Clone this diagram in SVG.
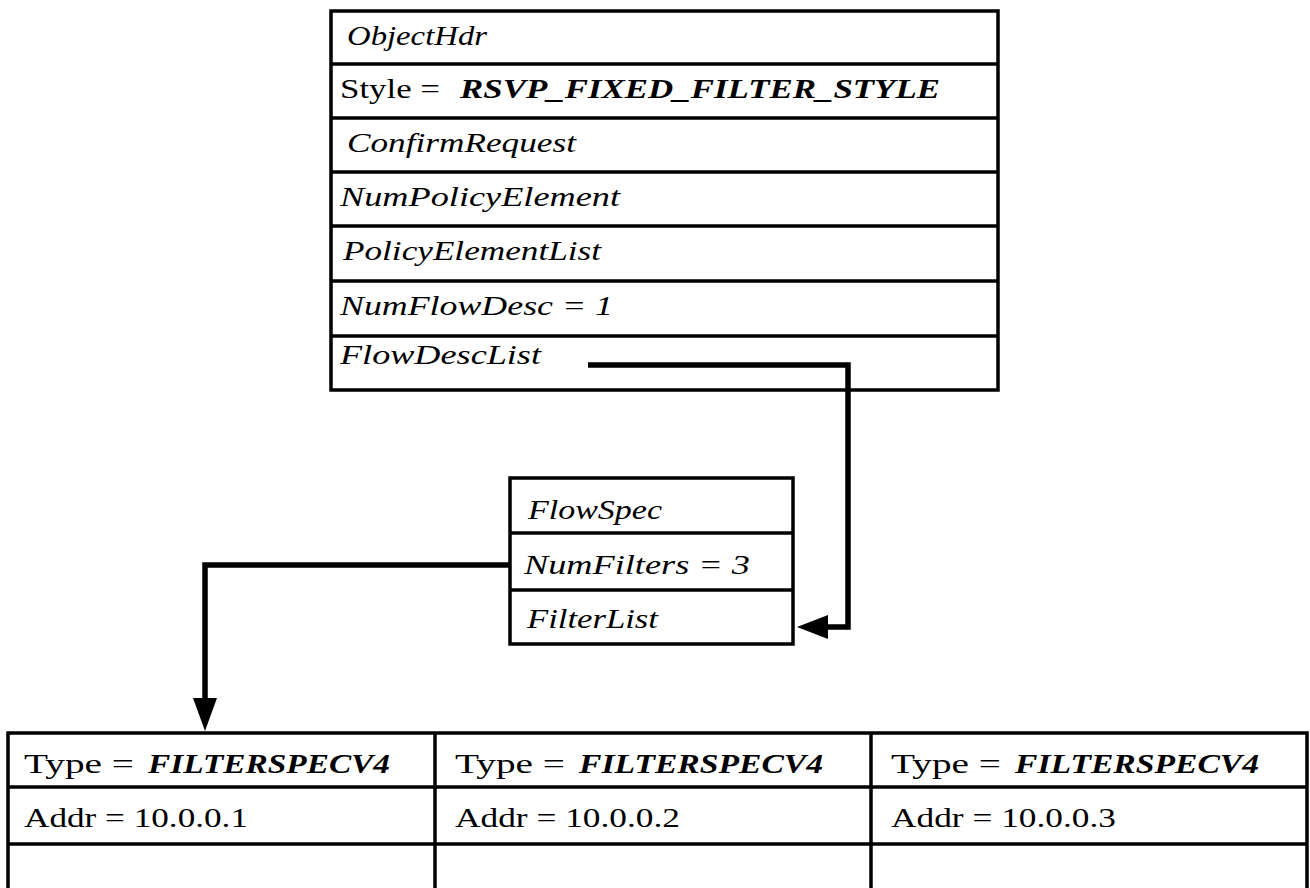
<svg xmlns="http://www.w3.org/2000/svg" width="1310" height="888" viewBox="0 0 1310 888">
<style>
.box{fill:#fff;stroke:#000;stroke-width:3.5}
.sep{stroke:#000;stroke-width:3.5}
.t{font-family:"Liberation Serif",serif;font-size:28px;fill:#000}
.i{font-style:italic}
.bi{font-style:italic;font-weight:bold}
.conn{fill:none;stroke:#000;stroke-width:5.5;stroke-linejoin:miter}
.head{fill:#000;stroke:none}
</style>
<rect width="1310" height="888" fill="#fff"/>
<g id="rsvp-object">
<rect class="box" x="331" y="11" width="667" height="379"/>
<line class="sep" x1="331" y1="64" x2="998" y2="64"/>
<line class="sep" x1="331" y1="118" x2="998" y2="118"/>
<line class="sep" x1="331" y1="172" x2="998" y2="172"/>
<line class="sep" x1="331" y1="226" x2="998" y2="226"/>
<line class="sep" x1="331" y1="281" x2="998" y2="281"/>
<line class="sep" x1="331" y1="336" x2="998" y2="336"/>
<text class="t i" x="347" y="45" textLength="140" lengthAdjust="spacingAndGlyphs">ObjectHdr</text>
<text class="t" x="340" y="98" textLength="100" lengthAdjust="spacingAndGlyphs">Style =</text>
<text class="t bi" x="460" y="98" textLength="480" lengthAdjust="spacingAndGlyphs">RSVP_FIXED_FILTER_STYLE</text>
<text class="t i" x="347" y="152" textLength="229" lengthAdjust="spacingAndGlyphs">ConfirmRequest</text>
<text class="t i" x="340" y="206" textLength="280" lengthAdjust="spacingAndGlyphs">NumPolicyElement</text>
<text class="t i" x="343" y="260" textLength="258" lengthAdjust="spacingAndGlyphs">PolicyElementList</text>
<text class="t i" x="340" y="315" textLength="273" lengthAdjust="spacingAndGlyphs">NumFlowDesc = 1</text>
<text class="t i" x="340" y="364" textLength="201" lengthAdjust="spacingAndGlyphs">FlowDescList</text>
</g>
<g id="flowspec">
<rect class="box" x="510" y="478" width="283" height="166"/>
<line class="sep" x1="510" y1="533" x2="793" y2="533"/>
<line class="sep" x1="510" y1="590" x2="793" y2="590"/>
<text class="t i" x="528" y="519" textLength="134" lengthAdjust="spacingAndGlyphs">FlowSpec</text>
<text class="t i" x="524" y="574" textLength="226" lengthAdjust="spacingAndGlyphs">NumFilters = 3</text>
<text class="t i" x="527" y="628" textLength="131" lengthAdjust="spacingAndGlyphs">FilterList</text>
</g>
<g id="filter-table">
<rect class="box" x="8" y="733" width="1299" height="170"/>
<line class="sep" x1="8" y1="787" x2="1307" y2="787"/>
<line class="sep" x1="8" y1="844" x2="1307" y2="844"/>
<line class="sep" x1="435" y1="733" x2="435" y2="888"/>
<line class="sep" x1="871" y1="733" x2="871" y2="888"/>
</g>
<g id="filter-1">
<text class="t" x="24" y="773" textLength="110" lengthAdjust="spacingAndGlyphs">Type =</text>
<text class="t bi" x="148" y="773" textLength="242" lengthAdjust="spacingAndGlyphs">FILTERSPECV4</text>
<text class="t" x="24" y="827" textLength="224" lengthAdjust="spacingAndGlyphs">Addr = 10.0.0.1</text>
</g>
<g id="filter-2">
<text class="t" x="455" y="773" textLength="110" lengthAdjust="spacingAndGlyphs">Type =</text>
<text class="t bi" x="579" y="773" textLength="244" lengthAdjust="spacingAndGlyphs">FILTERSPECV4</text>
<text class="t" x="455" y="827" textLength="225" lengthAdjust="spacingAndGlyphs">Addr = 10.0.0.2</text>
</g>
<g id="filter-3">
<text class="t" x="891" y="773" textLength="110" lengthAdjust="spacingAndGlyphs">Type =</text>
<text class="t bi" x="1015" y="773" textLength="244" lengthAdjust="spacingAndGlyphs">FILTERSPECV4</text>
<text class="t" x="891" y="827" textLength="225" lengthAdjust="spacingAndGlyphs">Addr = 10.0.0.3</text>
</g>
<g id="connectors">
<polyline class="conn" points="588,365 848,365 848,627 826,627"/>
<polygon class="head" points="797,627 828,615 828,639"/>
<polyline class="conn" points="510,565 205,565 205,700"/>
<polygon class="head" points="205,731 193,698 217,698"/>
</g>
</svg>
